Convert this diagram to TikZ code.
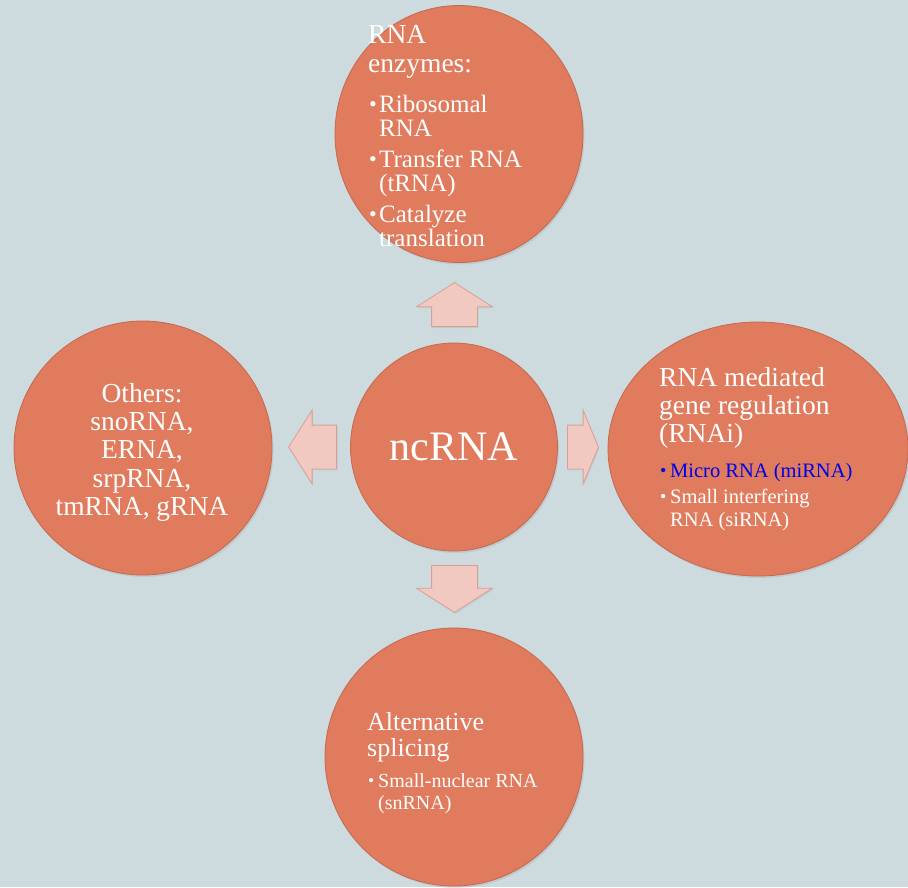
\documentclass[tikz,border=0pt]{standalone}
\usepackage{fontspec}
\setmainfont{Liberation Serif}
\usetikzlibrary{shapes.geometric,shapes.arrows,shadows}
\definecolor{slide}{RGB}{205,219,223}
\definecolor{bubblefill}{RGB}{224,123,94}
\definecolor{bubbleline}{RGB}{198,104,78}
\definecolor{arrowfill}{RGB}{242,201,193}
\definecolor{arrowline}{RGB}{214,160,150}
\definecolor{mirna}{RGB}{0,0,230}
\newcommand\bl{\makebox[10pt][l]{\raisebox{.04em}{\scalebox{.88}{\textbullet}}}}
\newcommand\hang{\hspace*{10pt}}
\setlength\lineskiplimit{-50pt}
\begin{document}
\begin{tikzpicture}[x=1pt,y=-1pt]
\tikzstyle{bubble}=[ellipse,draw=bubbleline,fill=bubblefill,line width=0.8pt,inner sep=0pt,
  drop shadow={opacity=0.18,shadow xshift=1.5pt,shadow yshift=-2pt}]
\tikzstyle{blockarr}=[single arrow,draw=arrowline,fill=arrowfill,line width=0.8pt,inner xsep=0pt,
  single arrow head extend=15pt,single arrow tip angle=115,
  drop shadow={opacity=0.15,shadow xshift=1pt,shadow yshift=-1.5pt}]
\tikzstyle{txt}=[text=white,inner sep=0pt,align=left]
\fill[slide] (0,0) rectangle (908,887);
\useasboundingbox (0,0) rectangle (908,887);
% the five bubbles
\node[bubble,minimum width=248pt,minimum height=257pt] (enz) at (459,134) {};
\node[bubble,minimum width=258pt,minimum height=254pt] (others) at (143,448) {};
\node[bubble,minimum width=300pt,minimum height=254pt] (rnai) at (758,449) {};
\node[bubble,minimum width=258pt,minimum height=258pt] (splice) at (454,757) {};
\node[bubble,minimum width=207pt,minimum height=208pt,text=white,
  font=\fontsize{42}{42}\selectfont] (ncrna) at (454,447) {ncRNA};
% block arrows out of the middle
\node[blockarr,inner ysep=22.5pt,minimum height=44pt,rotate=90,anchor=tail] (up) at (454.5,327) {};
\node[blockarr,inner ysep=22.5pt,minimum height=47pt,rotate=-90,anchor=tail] (down) at (454.5,565) {};
\node[blockarr,inner ysep=21.5pt,minimum height=48pt,rotate=180,anchor=tail] (left) at (337,447) {};
\node[blockarr,inner ysep=21.5pt,minimum height=31pt,single arrow tip angle=135,anchor=tail] (right) at (567,447) {};
% texts
\node[txt,anchor=north west,font=\fontsize{27.5}{29}\selectfont] (enztitle) at (368,25) {RNA\\enzymes:};
\node[txt,anchor=north west,font=\fontsize{25}{23.5}\selectfont] (enzlist) at (369,95)
  {\bl Ribosomal\\\hang RNA\\[8pt]\bl Transfer RNA\\\hang (tRNA)\\[8pt]\bl Catalyze\\\hang translation};
\node[txt,anchor=north west,font=\fontsize{27.5}{28}\selectfont] (rnaititle) at (659,367)
  {RNA mediated\\gene regulation\\(RNAi)};
\node[txt,anchor=north west,font=\fontsize{20.5}{23}\selectfont] (rnailist) at (660,463)
  {\textcolor{mirna}{\bl Micro RNA (miRNA)}\\[3pt]\bl Small interfering\\\hang RNA (siRNA)};
\node[txt,anchor=north west,font=\fontsize{26}{26.5}\selectfont] (splicetitle) at (367,712) {Alternative\\splicing};
\node[txt,anchor=north west,font=\fontsize{20}{22}\selectfont] (splicelist) at (368,773)
  {\bl Small-nuclear RNA\\\hang (snRNA)};
\node[txt,align=center,anchor=north,font=\fontsize{27.5}{28.3}\selectfont] (otherstxt) at (142,383)
  {Others:\\snoRNA,\\ERNA,\\srpRNA,\\tmRNA, gRNA};
\end{tikzpicture}
\end{document}
